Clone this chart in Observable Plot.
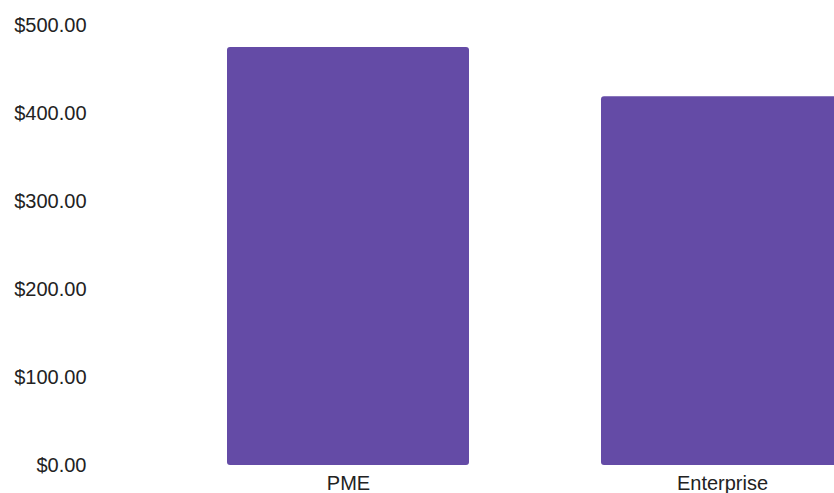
<!DOCTYPE html>
<html>
<head>
<meta charset="utf-8">
<script src="https://cdn.jsdelivr.net/npm/d3@7"></script>
<script src="https://cdn.jsdelivr.net/npm/@observablehq/plot@0.6"></script>
<style>
  html, body { margin: 0; padding: 0; background: #fff; overflow: hidden; }
  #chart svg { display: block; }
</style>
</head>
<body>
<div id="chart"></div>
<script>
const categories = ["PME", "Enterprise"];
const values = [475, 419];
const yTicks = [0, 100, 200, 300, 400, 500];

const data = categories.map((c, i) => ({category: c, value: values[i]}));
const fmt = d3.format("$,.2f");

const chart = Plot.plot({
  width: 834,
  height: 493,
  marginTop: 25,
  marginBottom: 28,
  marginLeft: 90,
  marginRight: 0,
  style: {fontFamily: "Liberation Sans, Arial, sans-serif", fontSize: "20px", color: "#222", background: "#fff", overflow: "hidden"},
  x: {domain: categories, range: [94, 976], padding: 0.352, label: null},
  y: {domain: [0, 500], label: null},
  marks: [
    Plot.barY(data, {x: "category", y: "value", fill: "#644ba6", rx: 3}),
    Plot.axisY({ticks: yTicks, tickFormat: fmt, tickSize: 0, tickPadding: 4, label: null}),
    Plot.axisX({tickSize: 0, tickPadding: 10, label: null})
  ]
});
document.getElementById("chart").appendChild(chart);
</script>
</body>
</html>
